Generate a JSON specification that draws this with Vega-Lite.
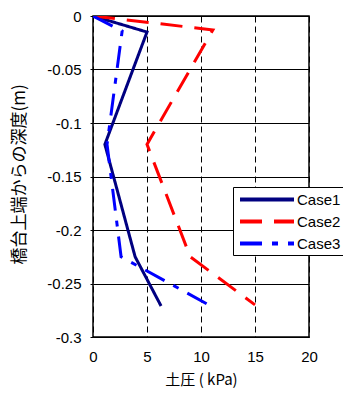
{
  "$schema": "https://vega.github.io/schema/vega-lite/v6.json",
  "autosize": {"type": "none"},
  "width": 216,
  "height": 321,
  "padding": {"left": 93, "top": 16, "right": 34, "bottom": 57},
  "background": "white",
  "config": {
    "view": {"stroke": "black", "strokeWidth": 1.5},
    "font": "Liberation Sans"
  },
  "data": {
    "values": [
      {"case": "Case1", "i": 0, "p": 0, "d": 0},
      {"case": "Case1", "i": 1, "p": 5.0, "d": -0.015},
      {"case": "Case1", "i": 2, "p": 1.1, "d": -0.12},
      {"case": "Case1", "i": 3, "p": 3.9, "d": -0.225},
      {"case": "Case1", "i": 4, "p": 6.3, "d": -0.271},
      {"case": "Case2", "i": 0, "p": 0, "d": 0},
      {"case": "Case2", "i": 1, "p": 11.1, "d": -0.013},
      {"case": "Case2", "i": 2, "p": 5.0, "d": -0.12},
      {"case": "Case2", "i": 3, "p": 9.0, "d": -0.225},
      {"case": "Case2", "i": 4, "p": 15.0, "d": -0.27},
      {"case": "Case3", "i": 0, "p": 0, "d": 0},
      {"case": "Case3", "i": 1, "p": 2.7, "d": -0.014},
      {"case": "Case3", "i": 2, "p": 1.3, "d": -0.12},
      {"case": "Case3", "i": 3, "p": 2.6, "d": -0.225},
      {"case": "Case3", "i": 4, "p": 10.9, "d": -0.271}
    ]
  },
  "mark": {"type": "line", "strokeWidth": 3, "clip": true},
  "encoding": {
    "x": {
      "field": "p", "type": "quantitative",
      "scale": {"domain": [0, 20], "nice": false, "zero": false},
      "axis": {
        "values": [0, 5, 10, 15, 20],
        "title": "土圧 ( kPa)",
        "titleFont": "Noto Sans CJK JP",
        "titleFontSize": 15,
        "titleFontWeight": "normal",
        "titleColor": "black",
        "titlePadding": 8,
        "labelFontSize": 15,
        "labelColor": "black",
        "labelPadding": 12,
        "labelFlush": false,
        "ticks": false,
        "domain": false,
        "grid": true,
        "gridColor": "black",
        "gridDash": [6, 4],
        "gridWidth": 1,
        "gridOpacity": 1
      }
    },
    "y": {
      "field": "d", "type": "quantitative",
      "scale": {"domain": [-0.3, 0], "nice": false, "zero": false},
      "axis": {
        "values": [0, -0.05, -0.1, -0.15, -0.2, -0.25, -0.3],
        "labelExpr": "replace(format(datum.value, ''), '\u2212', '-')",
        "title": "橋台上端からの深度(m)",
        "titleFont": "Noto Sans CJK JP",
        "titleFontSize": 17,
        "titleFontWeight": "normal",
        "titleColor": "black",
        "titleX": -74,
        "titleY": 158,
        "titleAngle": -90,
        "titleAlign": "center",
        "titleBaseline": "middle",
        "labelFontSize": 15,
        "labelColor": "black",
        "labelPadding": 9,
        "labelFlush": false,
        "ticks": true,
        "tickSize": 3,
        "tickColor": "black",
        "domain": false,
        "grid": true,
        "gridColor": "black",
        "gridWidth": 1,
        "gridOpacity": 1
      }
    },
    "color": {
      "field": "case", "type": "nominal",
      "scale": {"domain": ["Case1", "Case2", "Case3"], "range": ["#000080", "#ff0000", "#0000ff"]},
      "legend": {
        "title": null,
        "orient": "none",
        "legendX": 140,
        "legendY": 171,
        "strokeColor": "black",
        "fillColor": "white",
        "padding": 3,
        "rowPadding": 4,
        "symbolType": "M-3.6,0H3.6",
        "symbolSize": 225,
        "symbolStrokeWidth": 4,
        "labelFontSize": 15,
        "labelColor": "black",
        "labelOffset": 2,
        "encode": {
          "symbols": {"update": {"x": {"value": 31}}},
          "labels": {"update": {"x": {"value": 61}}}
        }
      }
    },
    "strokeDash": {
      "field": "case", "type": "nominal",
      "scale": {"domain": ["Case1", "Case2", "Case3"], "range": [[1, 0], [22, 12], [22, 10, 6, 10]]},
      "legend": null
    },
    "order": {"field": "i", "type": "quantitative"}
  }
}
